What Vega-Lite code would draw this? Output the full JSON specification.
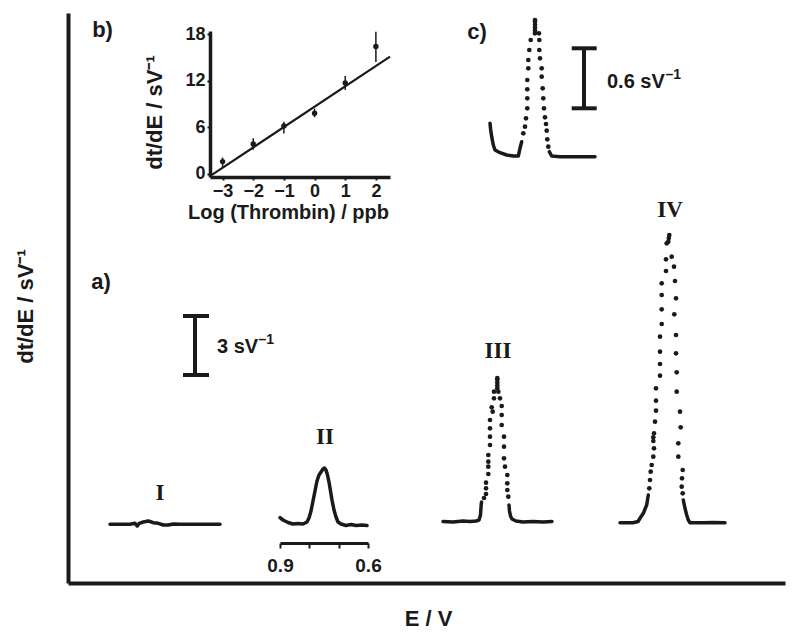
{
"$schema": "https://vega.github.io/schema/vega-lite/v6.json",
"width": 717, "height": 570,
"autosize": {"type": "none"},
"padding": {"left": 68, "top": 13, "right": 15, "bottom": 59},
"background": "white",
"config": {"view": {"stroke": null}, "axis": {"grid": false, "domainColor": "#1a1a1a", "tickColor": "#1a1a1a", "labelColor": "#1a1a1a", "titleColor": "#1a1a1a", "labelFont": "Liberation Sans", "titleFont": "Liberation Sans", "labelFontWeight": "bold", "titleFontWeight": "bold", "labelFlush": false, "labelOverlap": false, "minExtent": 0}},
"datasets": {
"lines": [
{"seg":"I","x":42,"y":58.7},{"seg":"I","x":62,"y":58.7},{"seg":"I","x":67,"y":59.7},{"seg":"I","x":69.3,"y":57},{"seg":"I","x":71.3,"y":59.7},{"seg":"I","x":75.3,"y":61},{"seg":"I","x":80.3,"y":62},{"seg":"I","x":85.3,"y":60.3},{"seg":"I","x":90.3,"y":59.7},{"seg":"I","x":95.3,"y":58},{"seg":"I","x":100.3,"y":58},{"seg":"I","x":105.3,"y":59},{"seg":"I","x":112,"y":58.7},{"seg":"I","x":130,"y":58.7},{"seg":"I","x":152,"y":58.7},
{"seg":"III-L","x":375,"y":61.5},{"seg":"III-L","x":385,"y":61},{"seg":"III-L","x":395,"y":62},{"seg":"III-L","x":402,"y":61.5},{"seg":"III-L","x":408,"y":62},{"seg":"III-L","x":411,"y":63},{"seg":"III-L","x":412.5,"y":68},{"seg":"III-L","x":413,"y":76},{"seg":"III-L","x":413.5,"y":81},
{"seg":"III-R","x":441,"y":78},{"seg":"III-R","x":441.5,"y":72},{"seg":"III-R","x":442.5,"y":67},{"seg":"III-R","x":444,"y":64},{"seg":"III-R","x":448,"y":62},{"seg":"III-R","x":455,"y":61},{"seg":"III-R","x":465,"y":61.5},{"seg":"III-R","x":475,"y":61},{"seg":"III-R","x":484,"y":61.5},
{"seg":"IV-L","x":552,"y":60.3},{"seg":"IV-L","x":565,"y":60.3},{"seg":"IV-L","x":570,"y":61.5},{"seg":"IV-L","x":572,"y":64.7},{"seg":"IV-L","x":575.3,"y":69.7},{"seg":"IV-L","x":578.7,"y":78},{"seg":"IV-L","x":580.3,"y":88},
{"seg":"IV-R","x":615.3,"y":83},{"seg":"IV-R","x":617,"y":74.7},{"seg":"IV-R","x":618.7,"y":68},{"seg":"IV-R","x":620.3,"y":63},{"seg":"IV-R","x":622,"y":60.3},{"seg":"IV-R","x":635,"y":60.3},{"seg":"IV-R","x":645,"y":60.5},{"seg":"IV-R","x":657,"y":60.3},
{"seg":"c-L","x":422,"y":459.7},{"seg":"c-L","x":422.7,"y":453},{"seg":"c-L","x":423.7,"y":446.3},{"seg":"c-L","x":425.3,"y":438},{"seg":"c-L","x":427,"y":433},{"seg":"c-L","x":432,"y":430.3},{"seg":"c-L","x":438.7,"y":428},{"seg":"c-L","x":445.3,"y":427},{"seg":"c-L","x":450.3,"y":427},{"seg":"c-L","x":452,"y":434.7},{"seg":"c-L","x":453.7,"y":441.3},
{"seg":"c-R","x":481.3,"y":431.3},{"seg":"c-R","x":483.7,"y":427},{"seg":"c-R","x":492,"y":426.3},{"seg":"c-R","x":508.7,"y":426.3},{"seg":"c-R","x":527,"y":426.3}
],
"dots": [
{"trace":"III","x":416,"y":85},{"trace":"III","x":418,"y":89},{"trace":"III","x":418,"y":94.7},{"trace":"III","x":418,"y":100.3},{"trace":"III","x":420.3,"y":109},{"trace":"III","x":420.3,"y":116.3},{"trace":"III","x":420.3,"y":121.3},{"trace":"III","x":420.3,"y":128},{"trace":"III","x":422,"y":138},{"trace":"III","x":422,"y":146.3},{"trace":"III","x":422,"y":154.7},{"trace":"III","x":422,"y":163},{"trace":"III","x":424.7,"y":171.3},{"trace":"III","x":423.7,"y":175.7},{"trace":"III","x":426,"y":184.7},{"trace":"III","x":426,"y":191.3},
{"trace":"III","x":429.3,"y":194.7},{"trace":"III","x":429.3,"y":197.5},{"trace":"III","x":429.3,"y":200.5},{"trace":"III","x":429.3,"y":203.5},{"trace":"III","x":429.3,"y":205},
{"trace":"III","x":430.3,"y":191.3},{"trace":"III","x":432,"y":184.7},{"trace":"III","x":433.7,"y":177},{"trace":"III","x":433.7,"y":168},{"trace":"III","x":433.7,"y":158},{"trace":"III","x":436,"y":146.3},{"trace":"III","x":436,"y":136.3},{"trace":"III","x":436,"y":124.7},{"trace":"III","x":437,"y":116.3},{"trace":"III","x":439.3,"y":108},{"trace":"III","x":439.3,"y":99.7},{"trace":"III","x":439.3,"y":93},{"trace":"III","x":440.3,"y":86.3},
{"trace":"IV","x":581.3,"y":94.7},{"trace":"IV","x":582,"y":103},{"trace":"IV","x":582.7,"y":111.3},{"trace":"IV","x":583.7,"y":118},{"trace":"IV","x":585.3,"y":126.3},{"trace":"IV","x":586,"y":134.7},{"trace":"IV","x":585.3,"y":142},{"trace":"IV","x":585.3,"y":145.7},{"trace":"IV","x":586,"y":149.7},{"trace":"IV","x":587,"y":161.3},{"trace":"IV","x":588,"y":172.3},{"trace":"IV","x":588,"y":182.3},{"trace":"IV","x":588,"y":194.7},{"trace":"IV","x":592,"y":207.3},{"trace":"IV","x":592,"y":219},{"trace":"IV","x":592,"y":231.3},{"trace":"IV","x":592,"y":246.3},{"trace":"IV","x":593.7,"y":259},{"trace":"IV","x":593.7,"y":273.7},{"trace":"IV","x":593.7,"y":288},{"trace":"IV","x":593.7,"y":299.7},{"trace":"IV","x":598,"y":312},{"trace":"IV","x":598,"y":323.7},{"trace":"IV","x":598.7,"y":339.7},
{"trace":"IV","x":601.3,"y":348},{"trace":"IV","x":600.8,"y":345},
{"trace":"IV","x":600.3,"y":341.3},{"trace":"IV","x":603.7,"y":326.3},{"trace":"IV","x":606,"y":316.3},{"trace":"IV","x":607,"y":302},{"trace":"IV","x":608,"y":284.7},{"trace":"IV","x":606.3,"y":268.7},{"trace":"IV","x":608,"y":248},{"trace":"IV","x":608,"y":229.7},{"trace":"IV","x":608.7,"y":210.7},{"trace":"IV","x":608.7,"y":191.3},{"trace":"IV","x":612,"y":171.3},{"trace":"IV","x":612.7,"y":155.7},{"trace":"IV","x":610.3,"y":139.7},{"trace":"IV","x":610.3,"y":126.3},{"trace":"IV","x":614.7,"y":113},{"trace":"IV","x":614,"y":104.7},{"trace":"IV","x":613.7,"y":96.3},{"trace":"IV","x":614.7,"y":89.7},
{"trace":"c","x":455.3,"y":449.7},{"trace":"c","x":457,"y":456.3},{"trace":"c","x":458,"y":464.7},{"trace":"c","x":459.3,"y":474.7},{"trace":"c","x":459.3,"y":484.7},{"trace":"c","x":459.3,"y":493.7},{"trace":"c","x":459.3,"y":503},{"trace":"c","x":460.3,"y":514.7},{"trace":"c","x":460.3,"y":523},{"trace":"c","x":461.3,"y":533},{"trace":"c","x":462.7,"y":543},
{"trace":"c","x":467,"y":549.7},{"trace":"c","x":467,"y":552.5},{"trace":"c","x":467,"y":555.5},{"trace":"c","x":467,"y":558.5},{"trace":"c","x":467,"y":561.5},{"trace":"c","x":467,"y":563},
{"trace":"c","x":471,"y":549.7},{"trace":"c","x":471.3,"y":543},{"trace":"c","x":471.3,"y":533},{"trace":"c","x":472,"y":524.7},{"trace":"c","x":473.7,"y":514.7},{"trace":"c","x":473.7,"y":506.3},{"trace":"c","x":474.7,"y":494.7},{"trace":"c","x":475.3,"y":484.7},{"trace":"c","x":476,"y":474.7},{"trace":"c","x":477,"y":465.7},{"trace":"c","x":478,"y":459},{"trace":"c","x":478.7,"y":452.3},{"trace":"c","x":479.3,"y":443.7},{"trace":"c","x":480.3,"y":436.3}
],
"trace2": [
{"E":0.9,"y":65.3},{"E":0.8898,"y":63},{"E":0.8727,"y":60.5},{"E":0.8557,"y":59},{"E":0.8386,"y":59.5},{"E":0.8216,"y":59},{"E":0.808,"y":61},{"E":0.8011,"y":65},{"E":0.7943,"y":72},{"E":0.7875,"y":82},{"E":0.7807,"y":92},{"E":0.7739,"y":102},{"E":0.767,"y":108},{"E":0.7602,"y":111},{"E":0.7534,"y":114},{"E":0.7483,"y":115},{"E":0.7432,"y":113},{"E":0.7381,"y":108},{"E":0.733,"y":101},{"E":0.7278,"y":92},{"E":0.7227,"y":83},{"E":0.7159,"y":73},{"E":0.7091,"y":66},{"E":0.7023,"y":61},{"E":0.692,"y":59},{"E":0.675,"y":57.5},{"E":0.658,"y":58.5},{"E":0.6409,"y":57.5},{"E":0.6205,"y":58},{"E":0.6034,"y":57.5}
],
"bars": [
{"x":127,"y":208,"x2":127,"y2":267},{"x":115,"y":208,"x2":141,"y2":208},{"x":115,"y":267,"x2":141,"y2":267},
{"x":516,"y":474.7,"x2":516,"y2":534.7},{"x":503.7,"y":474.7,"x2":528.7,"y2":474.7},{"x":503.7,"y":534.7,"x2":528.7,"y2":534.7}
],
"tags": [{"x":33,"y":301,"text":"a)"},{"x":34.5,"y":553,"text":"b)"},{"x":409,"y":551,"text":"c)"}],
"bartext": [{"x":149,"y":236,"text":"3 sV"},{"x":539,"y":501,"text":"0.6 sV"}],
"bartextsup": [{"x":190.5,"y":243,"text":"–1"},{"x":597.5,"y":508,"text":"–1"}],
"roman": [{"x":92,"y":90,"text":"I"},{"x":257,"y":146,"text":"II"},{"x":430,"y":232,"text":"III"},{"x":602,"y":373,"text":"IV"}],
"thrombin": [
{"logc":-3,"sig":1.58,"lo":0.9,"hi":2.1},{"logc":-2,"sig":3.86,"lo":3.1,"hi":4.6},{"logc":-1,"sig":6.17,"lo":5.2,"hi":6.7},{"logc":0,"sig":7.8,"lo":7.3,"hi":8.4},{"logc":1,"sig":11.7,"lo":10.8,"hi":12.6},{"logc":2,"sig":16.4,"lo":14.4,"hi":18.3}
],
"fit": [{"logc":-3.35,"sig":-0.13},{"logc":2.46,"sig":15.1}]
},
"layer": [
{
"encoding": {
"x": {"field":"x","type":"quantitative","scale":{"domain":[0,717],"nice":false,"zero":false},"axis":{"orient":"bottom","domainWidth":4,"ticks":false,"labels":false,"title":"E / V","titleFontSize":22,"titleX":360,"titleY":35,"titleBaseline":"middle","titleAlign":"center"}},
"y": {"field":"y","type":"quantitative","scale":{"domain":[0,570],"nice":false,"zero":false},"axis":{"orient":"left","domainWidth":4,"ticks":false,"labels":false,"title":"dt/dE / sV⁻¹","titleFontSize":22,"titleX":-43,"titleY":293,"titleBaseline":"middle","titleAlign":"center","titleAngle":270}}
},
"layer": [
{"data":{"name":"lines"},"mark":{"type":"line","color":"#1a1a1a","strokeWidth":3.5,"strokeCap":"round","strokeJoin":"round"},"encoding":{"detail":{"field":"seg"}}},
{"data":{"name":"dots"},"mark":{"type":"circle","color":"#1a1a1a","size":22,"opacity":1}},
{"data":{"name":"bars"},"mark":{"type":"rule","color":"#1a1a1a","strokeWidth":4},"encoding":{"x2":{"field":"x2"},"y2":{"field":"y2"}}},
{"data":{"name":"tags"},"mark":{"type":"text","font":"Liberation Sans","fontWeight":"bold","fontSize":22,"align":"center","baseline":"middle","color":"#1a1a1a"},"encoding":{"text":{"field":"text"}}},
{"data":{"name":"bartext"},"mark":{"type":"text","font":"Liberation Sans","fontWeight":"bold","fontSize":20,"align":"left","baseline":"middle","color":"#1a1a1a"},"encoding":{"text":{"field":"text"}}},
{"data":{"name":"bartextsup"},"mark":{"type":"text","font":"Liberation Sans","fontWeight":"bold","fontSize":14,"align":"left","baseline":"middle","color":"#1a1a1a"},"encoding":{"text":{"field":"text"}}},
{"data":{"name":"roman"},"mark":{"type":"text","font":"Liberation Serif","fontWeight":"bold","fontSize":23,"align":"center","baseline":"middle","color":"#1a1a1a"},"encoding":{"text":{"field":"text"}}}
]
},
{
"data":{"name":"trace2"},
"mark":{"type":"line","color":"#1a1a1a","strokeWidth":3.5,"strokeCap":"round","strokeJoin":"round"},
"encoding":{
"x":{"field":"E","type":"quantitative","scale":{"domain":[0.9,0.6],"range":[212,300],"nice":false,"zero":false},"axis":{"orient":"bottom","offset":-40,"values":[0.9,0.8,0.7,0.6],"format":".1f","labelExpr":"datum.value == 0.8 || datum.value == 0.7 ? '' : datum.label","tickSize":5,"tickWidth":2,"domainWidth":3,"labelPadding":8,"labelFontSize":19,"title":null}},
"y":{"field":"y","type":"quantitative","scale":{"domain":[0,570],"nice":false,"zero":false},"axis":null}
}
},
{
"encoding": {
"x": {"field":"logc","type":"quantitative","scale":{"domain":[-3.41,2.46],"range":[142,322],"nice":false,"zero":false},"axis":{"orient":"bottom","offset":-406,"values":[-3,-2,-1,0,1,2],"tickSize":3,"tickWidth":2,"domainWidth":3.5,"labelPadding":2,"labelFontSize":18,"title":"Log (Thrombin) / ppb","titleFontSize":20,"titleX":220,"titleY":35,"titleBaseline":"middle","titleAlign":"center"}},
"y": {"field":"sig","type":"quantitative","scale":{"domain":[-0.4,18.4],"range":[164,18],"nice":false,"zero":false},"axis":{"orient":"left","offset":-142,"values":[0,6,12,18],"tickSize":3,"tickWidth":2,"domainWidth":3.5,"labelPadding":2,"labelFontSize":18,"title":"dt/dE / sV⁻¹","titleFontSize":22,"titleX":-56,"titleY":99,"titleBaseline":"middle","titleAlign":"center","titleAngle":270}}
},
"layer": [
{"data":{"name":"fit"},"mark":{"type":"line","color":"#1a1a1a","strokeWidth":2.2}},
{"data":{"name":"thrombin"},"mark":{"type":"rule","color":"#1a1a1a","strokeWidth":1.5},"encoding":{"y":{"field":"lo","type":"quantitative"},"y2":{"field":"hi"}}},
{"data":{"name":"thrombin"},"mark":{"type":"point","filled":true,"color":"#1a1a1a","size":30,"opacity":1}}
]
}
],
"resolve": {"scale": {"x":"independent","y":"independent"}, "axis": {"x":"independent","y":"independent"}}
}
